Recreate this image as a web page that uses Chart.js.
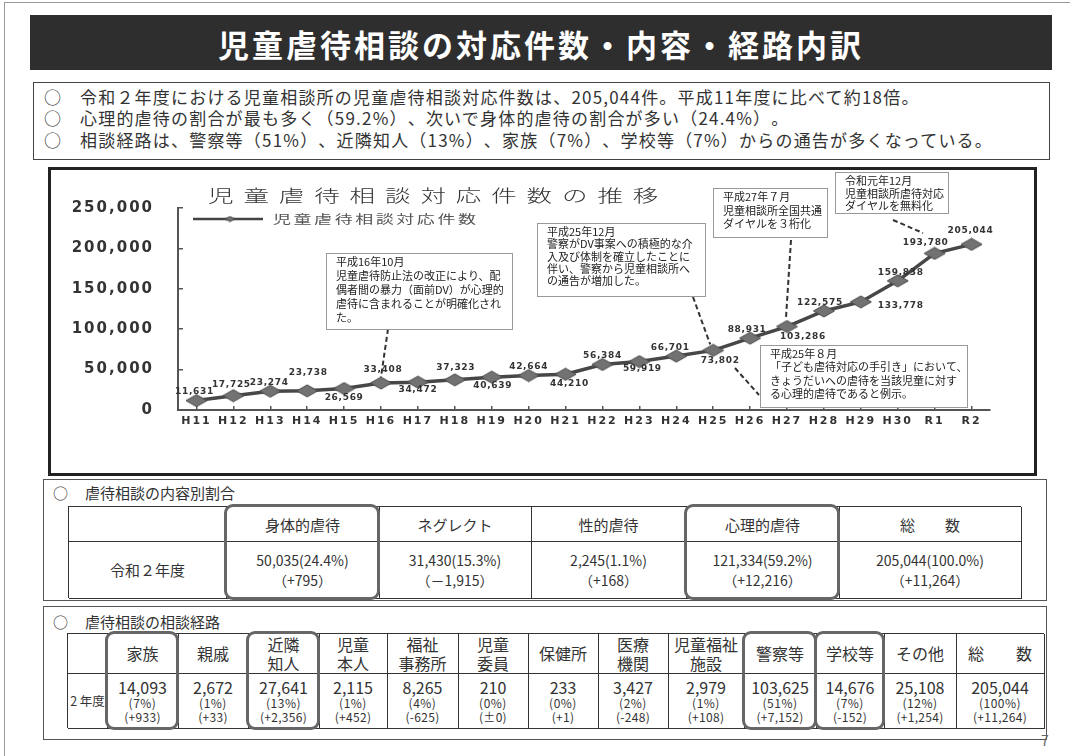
<!DOCTYPE html>
<html lang="ja">
<head>
<meta charset="utf-8">
<script src="https://cdn.jsdelivr.net/npm/chart.js@4"></script>
<style>
  body { margin: 0; background: #fff; font-family: "Noto Sans CJK JP", sans-serif; color: #222; text-spacing-trim: space-all; }
  .page { position: relative; width: 1070px; height: 756px; overflow: hidden; }
  .frame { position: absolute; left: 4px; top: 2px; width: 1080px; height: 770px; border: 1px solid #999; }
  .titlebar { position: absolute; left: 30px; top: 15px; width: 1022px; height: 55px; background: #2e2e2e;
    color: #fff; font-weight: bold; font-size: 31px; letter-spacing: 3px; text-align: center; line-height: 57px; }
  .summary { position: absolute; left: 33px; top: 82px; width: 1015px; height: 76px; border: 1px solid #444; }
  .summary .line { position: absolute; left: 0; height: 22px; line-height: 22px; font-size: 17px; letter-spacing: 1.2px;
    white-space: nowrap; color: #333; }
  .mark { position: absolute; left: 10px; }
  .txt { position: absolute; left: 46px; }
  .chartbox { position: absolute; left: 48px; top: 167px; width: 983px; height: 303px; border: 3px solid #222; }
  .chartbox canvas { display: block; }
  .panel { position: absolute; left: 43px; width: 1002px; border: 1px solid #555; }
  .panel .head { position: absolute; top: 2px; height: 22px; line-height: 22px; font-size: 15px; white-space: nowrap; color: #333; }
  .cell { position: absolute; box-sizing: border-box; border-right: 1px solid #333; border-bottom: 1px solid #333;
    display: flex; flex-direction: column; align-items: center; justify-content: center; text-align: center;
    white-space: nowrap; color: #333; }
  .grid { position: absolute; border-left: 1px solid #333; border-top: 1px solid #333; box-sizing: border-box; }
  .hl { position: absolute; box-sizing: border-box; border: 3px solid #666; border-radius: 9px; }
  .pageno { position: absolute; left: 1041px; top: 730px; font-size: 14px; color: #666; }
</style>
</head>
<body>
<div class="page">
  <div class="frame"></div>
  <div class="titlebar">児童虐待相談の対応件数・内容・経路内訳</div>

  <div class="summary">
    <div class="line" style="top:3px"><span class="mark">○</span><span class="txt">令和２年度における児童相談所の児童虐待相談対応件数は、205,044件。平成11年度に比べて約18倍。</span></div>
    <div class="line" style="top:24px"><span class="mark">○</span><span class="txt">心理的虐待の割合が最も多く（59.2%）、次いで身体的虐待の割合が多い（24.4%）。</span></div>
    <div class="line" style="top:46px"><span class="mark">○</span><span class="txt">相談経路は、警察等（51%）、近隣知人（13%）、家族（7%）、学校等（7%）からの通告が多くなっている。</span></div>
  </div>

  <div class="chartbox"><canvas id="trend" width="983" height="303"></canvas></div>

  <div class="panel" id="kindPanel" style="top:479px; height:120px">
    <div class="head" style="left:9px">○</div>
    <div class="head" style="left:41px">虐待相談の内容別割合</div>
  </div>
  <div class="panel" id="routePanel" style="top:606px; height:132px">
    <div class="head" style="left:9px; top:4px">○</div>
    <div class="head" style="left:41px; top:4px">虐待相談の相談経路</div>
  </div>
  <div id="tables"></div>
  <div class="pageno">7</div>
</div>

<script>
// yearly number of cases handled
const years = ['H11', 'H12', 'H13', 'H14', 'H15', 'H16', 'H17', 'H18', 'H19', 'H20', 'H21',
    'H22', 'H23', 'H24', 'H25', 'H26', 'H27', 'H28', 'H29', 'H30', 'R1', 'R2'];
const counts = [11631, 17725, 23274, 23738, 26569, 33408, 34472, 37323, 40639, 42664, 44210,
    56384, 59919, 66701, 73802, 88931, 103286, 122575, 133778, 159838, 193780, 205044];
const yTicks = [0, 50000, 100000, 150000, 200000, 250000];

// breakdown by type
const kinds = ['身体的虐待', 'ネグレクト', '性的虐待', '心理的虐待', '総　　数'];
const kindCounts = [50035, 31430, 2245, 121334, 205044];
const kindShares = ['24.4', '15.3', '1.1', '59.2', '100.0'];
const kindChanges = ['+795', '－1,915', '+168', '+12,216', '+11,264'];

// breakdown by route
const routes = ['家族', '親戚', '近隣\n知人', '児童\n本人', '福祉\n事務所', '児童\n委員', '保健所',
    '医療\n機関', '児童福祉\n施設', '警察等', '学校等', 'その他', '総　　数'];
const routeCounts = [14093, 2672, 27641, 2115, 8265, 210, 233, 3427, 2979, 103625, 14676, 25108, 205044];
const routeShares = ['7', '1', '13', '1', '4', '0', '0', '2', '1', '51', '7', '12', '100'];
const routeChanges = ['+933', '+33', '+2,356', '+452', '-625', '±0', '+1', '-248', '+108', '+7,152', '-152', '+1,254', '+11,264'];

// where each value label sits relative to its point
const labelOffsets = [[-2, -9], [-2, -11], [-1, -9], [1, -18], [0, 9], [2, -13], [0, 8], [1, -12], [1, 8], [0, -9], [4, 9],
    [0, -9], [3, 7], [-6, -8], [7, 10], [-3, -8], [16, 10], [-4, -8], [40, 4], [3, -8], [-9, -11], [-1, -14]];

// callout boxes on the chart
const notes = [
    { x: 275, y: 83, w: 186, h: 76, lh: 14, lines: ['平成16年10月', '児童虐待防止法の改正により、配', '偶者間の暴力（面前DV）が心理的', '虐待に含まれることが明確化され', 'た。'] },
    { x: 486, y: 53, w: 168, h: 73, lh: 12.3, lines: ['平成25年12月', '警察がDV事案への積極的な介', '入及び体制を確立したことに', '伴い、警察から児童相談所へ', 'の通告が増加した。'] },
    { x: 662, y: 18, w: 114, h: 49, lh: 13.5, lines: ['平成27年７月', '児童相談所全国共通', 'ダイヤルを３桁化'] },
    { x: 784, y: 2, w: 113, h: 41, lh: 12.5, lines: ['令和元年12月', '児童相談所虐待対応', 'ダイヤルを無料化'] },
    { x: 709, y: 175, w: 207, h: 62, lh: 13.3, lines: ['平成25年８月', '「子ども虐待対応の手引き」において、', 'きょうだいへの虐待を当該児童に対す', 'る心理的虐待であると例示。'] }
];

function diamond(w, h) {
    const c = document.createElement('canvas');
    c.width = w + 2;
    c.height = h + 2;
    const g = c.getContext('2d');
    g.beginPath();
    g.moveTo(w / 2 + 1, 1);
    g.lineTo(w + 1, h / 2 + 1);
    g.lineTo(w / 2 + 1, h + 1);
    g.lineTo(1, h / 2 + 1);
    g.closePath();
    g.fillStyle = '#727272';
    g.fill();
    g.strokeStyle = '#4a4a4a';
    g.lineWidth = 1;
    g.stroke();
    return c;
}

function wideText(ctx, text, x, y, sx, font, color, spacing) {
    ctx.save();
    ctx.translate(x, y);
    ctx.scale(sx, 1);
    ctx.font = font;
    ctx.fillStyle = color;
    ctx.letterSpacing = spacing + 'px';
    ctx.textAlign = 'left';
    ctx.textBaseline = 'middle';
    ctx.fillText(text, 0, 0);
    ctx.restore();
}

function dashed(ctx, x1, y1, x2, y2) {
    ctx.save();
    ctx.strokeStyle = '#333';
    ctx.lineWidth = 2;
    ctx.setLineDash([5, 3]);
    ctx.beginPath();
    ctx.moveTo(x1, y1);
    ctx.lineTo(x2, y2);
    ctx.stroke();
    ctx.restore();
}

const overlay = {
    id: 'overlay',
    beforeDraw(chart) {
        chart.ctx.letterSpacing = '2px';
    },
    afterDatasetsDraw(chart) {
        const ctx = chart.ctx;
        const pts = chart.getDatasetMeta(0).data;

        // title and legend
        wideText(ctx, '児童虐待相談対応件数の推移', 157, 26, 1.5, '300 17px "Noto Sans CJK JP"', '#333', 6.6);
        ctx.save();
        ctx.strokeStyle = '#444';
        ctx.lineWidth = 2.5;
        ctx.beginPath();
        ctx.moveTo(142, 49);
        ctx.lineTo(212, 49);
        ctx.stroke();
        ctx.restore();
        const small = diamond(10, 5);
        ctx.drawImage(small, 179 - small.width / 2, 49 - small.height / 2);
        wideText(ctx, '児童虐待相談対応件数', 222, 49, 1.5, '12px "Noto Sans CJK JP"', '#555', 1.7);

        // value labels
        ctx.save();
        ctx.font = 'bold 9px "DejaVu Sans"';
        ctx.fillStyle = '#333';
        ctx.letterSpacing = '0.7px';
        ctx.textAlign = 'center';
        ctx.textBaseline = 'middle';
        pts.forEach((p, i) => {
            const [dx, dy] = labelOffsets[i];
            ctx.fillText(counts[i].toLocaleString('en-US'), p.x + dx, p.y + dy);
        });
        ctx.restore();

        // callout leaders
        const h16 = pts[years.indexOf('H16')];
        const h25 = pts[years.indexOf('H25')];
        const h27 = pts[years.indexOf('H27')];
        dashed(ctx, 337, 159, h16.x, h16.y - 6);
        dashed(ctx, 642, 127, h25.x - 3, h25.y - 6);
        dashed(ctx, 740, 70, h27.x - 1, h27.y - 9);
        dashed(ctx, 842, 50, 872, 63);
        dashed(ctx, 684, 198, 708, 225);

        // callout boxes
        ctx.save();
        ctx.letterSpacing = '0px';
        notes.forEach(n => {
            ctx.fillStyle = '#fff';
            ctx.fillRect(n.x, n.y, n.w, n.h);
            ctx.strokeStyle = '#999';
            ctx.lineWidth = 1;
            ctx.strokeRect(n.x + 0.5, n.y + 0.5, n.w, n.h);
            ctx.font = '11px "Noto Sans CJK JP"';
            ctx.fillStyle = '#222';
            ctx.textAlign = 'left';
            ctx.textBaseline = 'middle';
            n.lines.forEach((t, k) => ctx.fillText(t, n.x + 10, n.y + 9 + k * n.lh));
        });
        ctx.restore();
    },
    afterDraw(chart) {
        chart.ctx.letterSpacing = '0px';
    }
};

const ctx = document.getElementById('trend').getContext('2d');

const chart = new Chart(ctx, {
    type: 'line',
    data: {
        labels: years,
        datasets: [{
            data: counts,
            borderColor: '#474747',
            borderWidth: 3.5,
            pointStyle: diamond(21, 12),
            pointRadius: 8,
            tension: 0
        }]
    },
    options: {
        responsive: false,
        animation: false,
        devicePixelRatio: 1,
        layout: { padding: { top: 33.5, right: 44, bottom: 0, left: 0 } },
        plugins: { legend: { display: false }, tooltip: { enabled: false } },
        scales: {
            x: {
                offset: true,
                grid: { drawOnChartArea: false, tickLength: -4, color: '#555', lineWidth: 1.5 },
                border: { color: '#555', width: 2 },
                ticks: { autoSkip: false, maxRotation: 0, padding: 9, color: '#333', font: { family: 'DejaVu Sans', size: 11, weight: 'bold' } },
                afterFit(scale) { scale.height = 63; }
            },
            y: {
                min: 0,
                max: 250000,
                afterBuildTicks(scale) { scale.ticks = yTicks.map(v => ({ value: v })); },
                grid: { drawOnChartArea: false, tickLength: -5, color: '#555', lineWidth: 1.5 },
                border: { color: '#555', width: 2 },
                ticks: {
                    padding: 29,
                    color: '#333',
                    font: { family: 'DejaVu Sans', size: 15, weight: 'bold' },
                    callback: v => v.toLocaleString('en-US')
                },
                afterFit(scale) { scale.width = 127; }
            }
        }
    },
    plugins: [overlay]
});

// tables
function buildGrid(left, top, colW, rowH, header, rows, highlight, hlPad) {
    const holder = document.getElementById('tables');
    const totalW = colW.reduce((a, b) => a + b, 0);
    const totalH = rowH.reduce((a, b) => a + b, 0);
    const grid = document.createElement('div');
    grid.className = 'grid';
    grid.style.cssText = `left:${left}px;top:${top}px;width:${totalW + 1}px;height:${totalH + 1}px`;
    holder.appendChild(grid);

    let y = 0;
    [header, rows].forEach((row, r) => {
        let x = 0;
        row.forEach((html, c) => {
            const cell = document.createElement('div');
            cell.className = 'cell';
            cell.style.cssText = `left:${x}px;top:${y}px;width:${colW[c] + 1}px;height:${rowH[r] + 1}px`;
            cell.innerHTML = html;
            grid.appendChild(cell);
            x += colW[c];
        });
        y += rowH[r];
    });

    highlight.forEach(c => {
        const x = colW.slice(0, c).reduce((a, b) => a + b, 0);
        const box = document.createElement('div');
        box.className = 'hl';
        box.style.cssText = `left:${left + x - 1}px;top:${top - hlPad}px;width:${colW[c] + 3}px;height:${totalH + hlPad * 2 + 1}px`;
        holder.appendChild(box);
    });
}

const fmt = v => v.toLocaleString('en-US');

buildGrid(68, 506, [157, 153, 152, 155, 153, 182], [34, 57],
    [''].concat(kinds.map(k => `<span style="font-size:15px">${k}</span>`)),
    ['<span style="font-size:15px">令和２年度</span>'].concat(kinds.map((k, i) =>
        `<span style="font-size:14px;line-height:20px">${fmt(kindCounts[i])}(${kindShares[i]}%)</span>` +
        `<span style="font-size:14px;line-height:20px">（${kindChanges[i]}）</span>`)),
    [1, 4], 2);

buildGrid(67, 633, [39, 71, 70, 71, 68, 71, 70, 70, 70, 76, 72, 68, 72, 88], [39, 55],
    [''].concat(routes.map(r => `<span style="font-size:16px;line-height:19px">${r.replace('\n', '<br>')}</span>`)),
    ['<span style="font-size:12.5px">2 年度</span>'].concat(routes.map((r, i) =>
        `<span style="font-size:16px;line-height:18px">${fmt(routeCounts[i])}</span>` +
        `<span style="font-size:12px;line-height:14px;letter-spacing:0.5px">(${routeShares[i]}%)</span>` +
        `<span style="font-size:12px;line-height:14px;letter-spacing:0.3px">(${routeChanges[i]})</span>`)),
    [1, 3, 10, 11], 2);
</script>
</body>
</html>
